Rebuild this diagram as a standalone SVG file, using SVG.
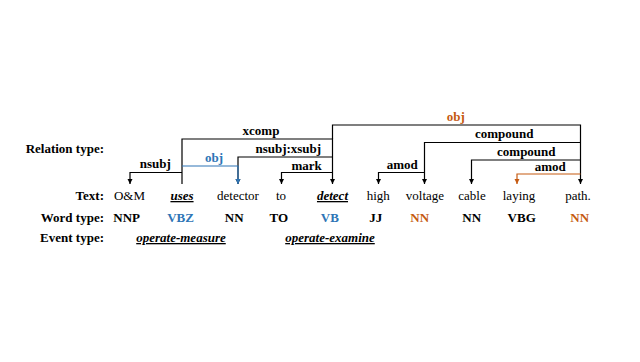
<svg xmlns="http://www.w3.org/2000/svg" width="640" height="362" viewBox="0 0 640 362">
<style>
text{font-family:"Liberation Serif","Times New Roman",serif;font-size:13px;fill:#000}
.rowlab{font-weight:bold;text-anchor:end}
.lab{font-weight:bold;text-anchor:middle}
.w{text-anchor:middle}
.key{font-weight:bold;font-style:italic;text-decoration:underline}
.pos{font-weight:bold;text-anchor:middle}
.ev{font-weight:bold;font-style:italic;text-decoration:underline;text-anchor:middle}
.blue{fill:#2E75B6}
.orange{fill:#C55A11}
.edge{fill:none;stroke:#000;stroke-width:1.2}
.edge.b{stroke:#2E75B6}
.edge.o{stroke:#C55A11}
</style>
<defs>
<marker id="ak" markerUnits="userSpaceOnUse" markerWidth="6" markerHeight="6" refX="5" refY="2.5" orient="auto"><path d="M0,0 L5,2.5 L0,5 z" fill="#000"/></marker>
<marker id="ab" markerUnits="userSpaceOnUse" markerWidth="6" markerHeight="6" refX="5" refY="2.5" orient="auto"><path d="M0,0 L5,2.5 L0,5 z" fill="#2E75B6"/></marker>
<marker id="ao" markerUnits="userSpaceOnUse" markerWidth="6" markerHeight="6" refX="5" refY="2.5" orient="auto"><path d="M0,0 L5,2.5 L0,5 z" fill="#C55A11"/></marker>
</defs>
<rect width="640" height="362" fill="#fff"/>
<g id="row-labels">
<text class="rowlab" x="104" y="153">Relation type:</text>
<text class="rowlab" x="104" y="200">Text:</text>
<text class="rowlab" x="104" y="221.5">Word type:</text>
<text class="rowlab" x="104" y="242">Event type:</text>
</g>
<g id="connectors">
<path id="e-xcomp" class="edge" d="M182,184 V139 H332.5 V184" marker-end="url(#ak)"/>
<path id="e-obj2" class="edge" d="M332.5,139 V125 H580.5 V184" marker-end="url(#ak)"/>
<path id="e-nsubj" class="edge" d="M182,172.5 H130 V184" marker-end="url(#ak)"/>
<path id="e-nsubjx" class="edge" d="M332.5,157 H238 V184" marker-end="url(#ak)"/>
<path id="e-obj1" class="edge b" d="M182,166 H238 V184" marker-end="url(#ab)"/>
<path id="e-mark" class="edge" d="M332.5,172.5 H281.5 V184" marker-end="url(#ak)"/>
<path id="e-comp1" class="edge" d="M580.5,142.5 H424.5 V184" marker-end="url(#ak)"/>
<path id="e-comp2" class="edge" d="M580.5,160 H471.5 V184" marker-end="url(#ak)"/>
<path id="e-amod2" class="edge o" d="M580.5,174 H517 V184" marker-end="url(#ao)"/>
<path id="e-amod1" class="edge" d="M424.5,172.5 H378.5 V184" marker-end="url(#ak)"/>
<text class="lab" x="155.3" y="168">nsubj</text>
<text class="lab blue" x="214" y="162">obj</text>
<text class="lab" x="261" y="135">xcomp</text>
<text class="lab" x="288.3" y="153">nsubj:xsubj</text>
<text class="lab" x="306.7" y="169.5">mark</text>
<text class="lab orange" x="455.8" y="121">obj</text>
<text class="lab" x="504.2" y="138">compound</text>
<text class="lab" x="526.3" y="155.5">compound</text>
<text class="lab" x="550.3" y="171">amod</text>
<text class="lab" x="402.3" y="169">amod</text>
</g>
<g id="w-OM"><text class="w" x="129.5" y="200">O&amp;M</text><text class="pos" x="126.7" y="221.5">NNP</text></g>
<g id="w-uses"><text class="w key" x="182" y="200">uses</text><text class="pos blue" x="180.5" y="221.5">VBZ</text></g>
<g id="w-detector"><text class="w" x="238" y="200">detector</text><text class="pos" x="234.2" y="221.5">NN</text></g>
<g id="w-to"><text class="w" x="281" y="200">to</text><text class="pos" x="278.8" y="221.5">TO</text></g>
<g id="w-detect"><text class="w key" x="332.5" y="200">detect</text><text class="pos blue" x="329.8" y="221.5">VB</text></g>
<g id="w-high"><text class="w" x="378.3" y="200">high</text><text class="pos" x="375.7" y="221.5">JJ</text></g>
<g id="w-voltage"><text class="w" x="425" y="200">voltage</text><text class="pos orange" x="419.7" y="221.5">NN</text></g>
<g id="w-cable"><text class="w" x="472" y="200">cable</text><text class="pos" x="471.7" y="221.5">NN</text></g>
<g id="w-laying"><text class="w" x="519" y="200">laying</text><text class="pos" x="521.7" y="221.5">VBG</text></g>
<g id="w-path"><text class="w" x="578" y="200">path.</text><text class="pos orange" x="579.7" y="221.5">NN</text></g>
<g id="events">
<text class="ev" x="181" y="242">operate-measure</text>
<text class="ev" x="330" y="242">operate-examine</text>
</g>
</svg>
